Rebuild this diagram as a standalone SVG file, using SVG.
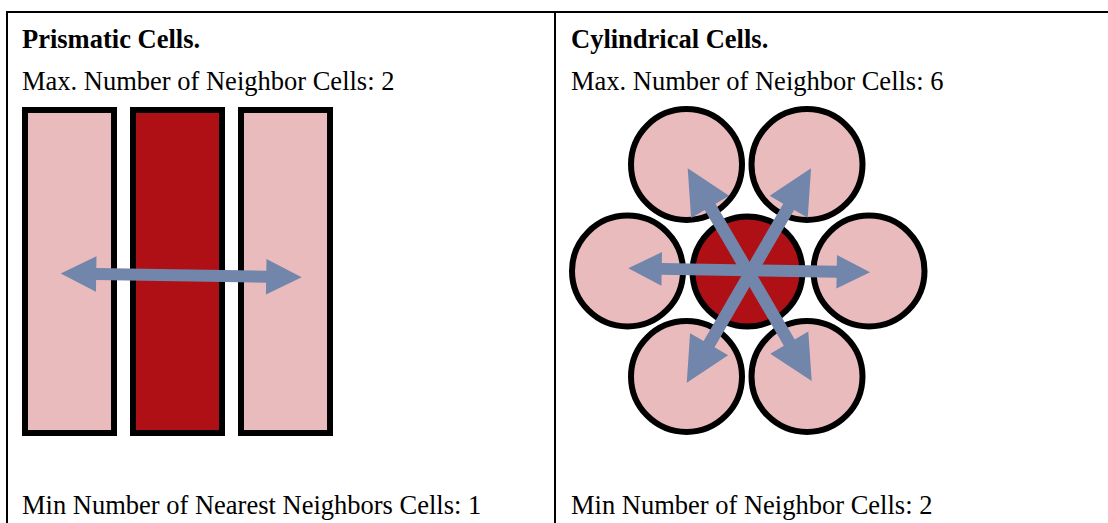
<svg xmlns="http://www.w3.org/2000/svg" width="1108" height="523" viewBox="0 0 1108 523">
  <style>
    .grid { stroke: #000; stroke-width: 2; fill: none; }
    .title { font-family: "Liberation Serif", "Times New Roman", serif; font-size: 26.5px; font-weight: bold; fill: #000; }
    .label { font-family: "Liberation Serif", "Times New Roman", serif; font-size: 26.5px; fill: #000; }
    .cell { stroke: #000; stroke-width: 6; }
    .neighbor { fill: #E9BBBC; }
    .core { fill: #AF1016; }
    .arrow { fill: #7186AA; }
  </style>
  <rect width="1108" height="523" fill="#fff"/>

  <!-- table frame -->
  <g id="frame">
    <line class="grid" x1="6" y1="12" x2="1108" y2="12"/>
    <line class="grid" x1="7" y1="11" x2="7" y2="523"/>
    <line class="grid" x1="555" y1="12" x2="555" y2="523"/>
  </g>

  <!-- left column: prismatic cells -->
  <g id="prismatic">
    <text class="title" x="22" y="48">Prismatic Cells.</text>
    <text class="label" x="22" y="90">Max. Number of Neighbor Cells: 2</text>
    <g id="prism-left"><rect class="cell neighbor" x="25" y="110" width="89" height="323"/></g>
    <g id="prism-center"><rect class="cell core" x="133" y="110" width="89" height="323"/></g>
    <g id="prism-right"><rect class="cell neighbor" x="241" y="110" width="89" height="323"/></g>
    <text class="label" x="22" y="514">Min Number of Nearest Neighbors Cells: 1</text>
  </g>

  <!-- right column: cylindrical cells -->
  <g id="cylindrical">
    <text class="title" x="571" y="48">Cylindrical Cells.</text>
    <text class="label" x="571" y="90">Max. Number of Neighbor Cells: 6</text>
    <g id="cyl-top-left"><circle class="cell neighbor" cx="686.5" cy="164.5" r="55.5"/></g>
    <g id="cyl-top-right"><circle class="cell neighbor" cx="807" cy="164.5" r="55.5"/></g>
    <g id="cyl-left"><circle class="cell neighbor" cx="627.5" cy="271" r="55.5"/></g>
    <g id="cyl-center"><circle class="cell core" cx="747.5" cy="271.5" r="55"/></g>
    <g id="cyl-right"><circle class="cell neighbor" cx="869" cy="271" r="55.5"/></g>
    <g id="cyl-bottom-left"><circle class="cell neighbor" cx="686.5" cy="376.5" r="55.5"/></g>
    <g id="cyl-bottom-right"><circle class="cell neighbor" cx="807" cy="376.5" r="55.5"/></g>
    <text class="label" x="571" y="514">Min Number of Neighbor Cells: 2</text>
  </g>

  <!-- neighbour arrows: double-headed, each laid out along x about its midpoint -->
  <g id="connectors" class="arrow">
    <polygon transform="translate(181.2,275.4) rotate(0.9)"
      points="-120.5,0 -85,-17.8 -85,-6 85,-6 85,-17.8 120.5,0 85,17.8 85,6 -85,6 -85,17.8"/>
    <polygon transform="translate(749.2,270.3) rotate(0.95)"
      points="-120.9,0 -87.5,-16.8 -87.5,-5.9 87.5,-5.9 87.5,-16.8 120.9,0 87.5,16.8 87.5,5.9 -87.5,5.9 -87.5,16.8"/>
    <polygon transform="translate(749.7,274.7) rotate(59.75)"
      points="-123.1,0 -78.6,-22 -78.6,-6.3 78.6,-6.3 78.6,-22 123.1,0 78.6,22 78.6,6.3 -78.6,6.3 -78.6,22"/>
    <polygon transform="translate(748.9,275.5) rotate(120.1)"
      points="-123.9,0 -79.4,-22 -79.4,-6.3 79.4,-6.3 79.4,-22 123.9,0 79.4,22 79.4,6.3 -79.4,6.3 -79.4,22"/>
  </g>
</svg>
